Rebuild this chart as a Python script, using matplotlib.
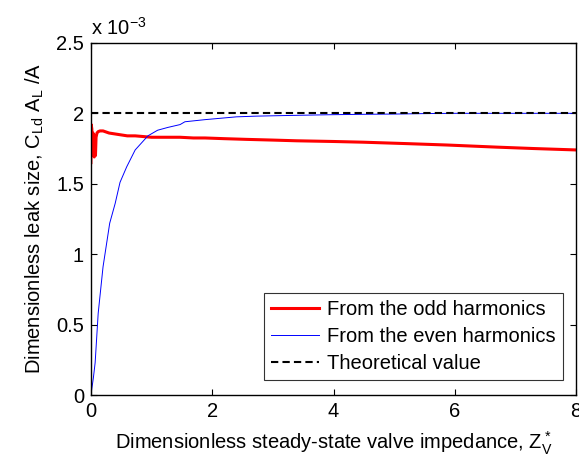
import matplotlib
matplotlib.use("Agg")
import matplotlib.pyplot as plt
import numpy as np

plt.rcParams['font.family'] = ['Liberation Sans', 'DejaVu Sans']
plt.rcParams['mathtext.fontset'] = 'custom'
plt.rcParams['mathtext.rm'] = 'Liberation Sans'
plt.rcParams['mathtext.it'] = 'Liberation Sans'

# Data (values in units of 1e-3)
odd_x = [0.0, 0.005, 0.015, 0.025, 0.035, 0.045, 0.055, 0.065, 0.075, 0.085, 0.1, 0.12,
         0.15, 0.2, 0.3, 0.45, 0.6, 0.73, 1.0, 1.3, 1.47, 1.69, 1.88, 2.2, 2.57, 3.0,
         3.39, 4.0, 4.49, 5.2, 5.87, 6.69, 7.3, 8.0]
odd_y = [1.65, 1.92, 1.89, 1.78, 1.86, 1.72, 1.69, 1.84, 1.70, 1.83, 1.86, 1.87,
         1.875, 1.875, 1.86, 1.85, 1.84, 1.84, 1.83, 1.83, 1.83, 1.825, 1.825, 1.82, 1.815, 1.81,
         1.805, 1.80, 1.795, 1.785, 1.775, 1.76, 1.75, 1.74]

even_x = [0.0, 0.01, 0.04, 0.07, 0.12, 0.2, 0.31, 0.4, 0.48, 0.59, 0.73, 0.94, 1.1,
          1.27, 1.47, 1.55, 1.88, 2.01, 2.4, 2.73, 3.3, 3.94, 4.5, 5.04, 5.5, 6.0, 7.0, 8.0]
even_y = [0.0, 0.03, 0.12, 0.23, 0.58, 0.91, 1.22, 1.36, 1.51, 1.62, 1.74, 1.84, 1.88,
          1.90, 1.92, 1.94, 1.955, 1.96, 1.975, 1.98, 1.985, 1.99, 1.993, 1.995, 1.998, 2.0, 2.0, 2.0]

theory_x = [0.0, 8.0]
theory_y = [2.0, 2.0]

FS = 14.5
fig = plt.figure(figsize=(5.79, 4.61), dpi=100)
ax = fig.add_axes([0.157, 0.143, 0.838, 0.764])

ax.plot(odd_x, odd_y, color='#ff0000', lw=2.2, label='From the odd harmonics')
ax.plot(even_x, even_y, color='#0000ff', lw=0.7, label='From the even harmonics')
ax.plot(theory_x, theory_y, color='black', lw=1.5, ls=(0, (3.5, 2)), label='Theoretical value')

ax.set_xlim(0, 8)
ax.set_ylim(0, 2.5)
ax.set_xticks([0, 2, 4, 6, 8])
ax.set_xticklabels(['0', '2', '4', '6', '8'])
ax.set_yticks([0, 0.5, 1, 1.5, 2, 2.5])
ax.set_yticklabels(['0', '0.5', '1', '1.5', '2', '2.5'])
ax.tick_params(direction='in', top=True, right=True, labelsize=FS, length=4, width=0.8, pad=5)
for s in ax.spines.values():
    s.set_linewidth(1.0)

ax.set_xlabel('Dimensionless steady-state valve impedance, $Z_V^*$', fontsize=FS, labelpad=6)
ax.set_ylabel('Dimensionless leak size, C$_{Ld}$ A$_{L}$ /A', fontsize=FS, labelpad=7)
ax.text(0.0, 1.012, 'x 10$^{-3}$', transform=ax.transAxes, fontsize=FS, ha='left', va='bottom')

leg = ax.legend(loc='lower right', bbox_to_anchor=(0.973, 0.043), fontsize=FS, frameon=True,
                fancybox=False, edgecolor='black', handlelength=2.4, borderpad=0.35,
                labelspacing=0.4, handletextpad=0.4, borderaxespad=0)
leg.get_frame().set_linewidth(0.8)

fig.savefig('out.png', dpi=100)
